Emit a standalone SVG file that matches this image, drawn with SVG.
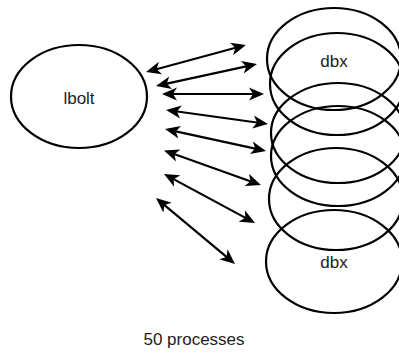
<svg xmlns="http://www.w3.org/2000/svg" width="399" height="357" viewBox="0 0 399 357">
<style>
.n{fill:none;stroke:#000;stroke-width:2.2}
.t{font-family:"Liberation Sans",Arial,sans-serif;font-size:17px;fill:#222;text-anchor:middle}
.c line{stroke:#000;stroke-width:2.2;marker-start:url(#ah);marker-end:url(#ah)}
</style>
<defs>
<marker id="ah" markerUnits="userSpaceOnUse" markerWidth="16" markerHeight="14" viewBox="0 -7 16 14" refX="11" refY="0" orient="auto-start-reverse">
<path d="M0,-6.5 L15,0 L0,6.5 L4,0 Z" fill="#000"/>
</marker>
</defs>
<rect width="399" height="357" fill="#fff"/>
<g id="lbolt"><ellipse class="n" cx="79" cy="96.5" rx="68" ry="51.5"/><text class="t" x="79" y="104">lbolt</text></g>
<g id="dbx1"><ellipse class="n" cx="334" cy="59" rx="67" ry="51"/><text class="t" x="334" y="67">dbx</text></g>
<g id="dbx2"><ellipse class="n" cx="337" cy="84" rx="67" ry="51"/></g>
<g id="dbx3"><ellipse class="n" cx="338" cy="133" rx="67" ry="50"/></g>
<g id="dbx4"><ellipse class="n" cx="338" cy="156" rx="67" ry="50"/></g>
<g id="dbx5"><ellipse class="n" cx="336" cy="199" rx="67" ry="51"/></g>
<g id="dbx6"><ellipse class="n" cx="334" cy="261.5" rx="68" ry="51.5"/><text class="t" x="334" y="268">dbx</text></g>
<g id="connectors" class="c">
<line x1="149.9" y1="71" x2="242.1" y2="46"/>
<line x1="159.9" y1="85.1" x2="253.1" y2="64.9"/>
<line x1="166" y1="94" x2="260" y2="94"/>
<line x1="170" y1="110.5" x2="264" y2="123.5"/>
<line x1="168.9" y1="129.9" x2="262.1" y2="150.1"/>
<line x1="167.8" y1="151.8" x2="257.2" y2="183.7"/>
<line x1="167.5" y1="175.9" x2="251.5" y2="221.1"/>
<line x1="159.1" y1="200.6" x2="231.9" y2="261.4"/>
</g>
<text id="caption" class="t" x="194" y="345">50 processes</text>
</svg>
